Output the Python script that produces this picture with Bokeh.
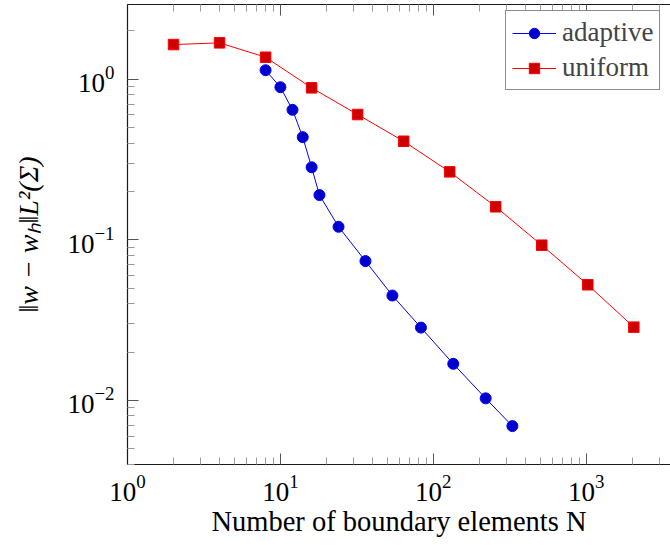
from bokeh.plotting import figure
from bokeh.models import Range1d, FixedTicker, LogAxis, Legend, LegendItem
from bokeh.embed import file_html
from bokeh.resources import INLINE

# ---------------- data ----------------
adaptive_n = [8, 10, 12, 14, 16, 18, 24, 36, 54, 83, 135, 220, 329]
adaptive_err = [1.138, 0.892, 0.645, 0.436, 0.283, 0.190, 0.1206, 0.0737,
                0.0450, 0.0284, 0.0169, 0.0103, 0.00692]
uniform_n = [2, 4, 8, 16, 32, 64, 128, 256, 512, 1024, 2048]
uniform_err = [1.644, 1.685, 1.371, 0.884, 0.603, 0.411, 0.265, 0.1606,
               0.0926, 0.0525, 0.0286]
series_labels = ["adaptive", "uniform"]
x_major_ticks = [1, 10, 100, 1000]
y_major_ticks = [0.01, 0.1, 1]
x_label = "Number of boundary elements N"
y_label = "\u2016w \u2212 w\u2095\u2016L\u00b2(\u03a3)"

FONT = "Liberation Serif"
x_minor = [k * 10 ** d for d in range(0, 4) for k in range(2, 10)]
y_minor = [k * 10.0 ** d for d in range(-3, 1) for k in range(2, 10)]

p = figure(width=670, height=545, x_axis_type="log", y_axis_type="log",
           x_range=Range1d(1, 3558), y_range=Range1d(0.00399, 2.92),
           output_backend="svg", toolbar_location=None,
           min_border_left=127, min_border_right=0, min_border_top=4,
           min_border_bottom=81)
p.grid.visible = False
p.outline_line_color = None
p.background_fill_color = "white"
p.border_fill_color = "white"

def style_axis(ax, ticks, minor, show_labels=True):
    ax.ticker = FixedTicker(ticks=ticks, minor_ticks=minor)
    ax.axis_line_color = "#1a1a1a"
    ax.axis_line_width = 1.2
    ax.major_tick_in = 11
    ax.major_tick_out = 0
    ax.minor_tick_in = 7
    ax.minor_tick_out = 0
    ax.major_tick_line_color = "#555555"
    ax.minor_tick_line_color = "#9a9a9a"
    ax.major_label_text_font = FONT
    ax.major_label_text_color = "black"
    ax.axis_label_text_font = FONT
    ax.axis_label_text_color = "black"
    ax.axis_label_text_font_size = "28px"
    if show_labels:
        ax.major_label_text_font_size = "27px"
    else:
        ax.major_label_text_font_size = "1px"
        ax.major_label_text_alpha = 0
        ax.major_label_standoff = 0

style_axis(p.xaxis[0], x_major_ticks, x_minor)
style_axis(p.yaxis[0], y_major_ticks, y_minor)
p.xaxis[0].major_label_standoff = 10
p.yaxis[0].major_label_standoff = 13
p.xaxis[0].axis_label = x_label
p.xaxis[0].axis_label_text_font_style = "normal"
p.xaxis[0].axis_label_text_font_size = "28.5px"
p.xaxis[0].axis_label_standoff = 2
p.yaxis[0].axis_label = y_label
p.yaxis[0].axis_label_text_font_style = "italic"
p.yaxis[0].axis_label_standoff = 20

top_axis = LogAxis()
style_axis(top_axis, x_major_ticks, x_minor, show_labels=False)
p.add_layout(top_axis, "above")

# ---------------- series ----------------
bl = p.line(adaptive_n, adaptive_err, line_color="#0000ff", line_width=1)
bm = p.scatter(adaptive_n, adaptive_err, marker="circle", size=11,
               fill_color="#0000cc", line_color="#0000ff", line_width=1)
rl = p.line(uniform_n, uniform_err, line_color="#ff0000", line_width=1)
rm = p.scatter(uniform_n, uniform_err, marker="square", size=10.5,
               fill_color="#cc0000", line_color="#ff0000", line_width=1)

legend = Legend(items=[LegendItem(label=series_labels[0], renderers=[bl, bm]),
                       LegendItem(label=series_labels[1], renderers=[rl, rm])],
                location=(378, 374), padding=6, spacing=4,
                glyph_width=44, glyph_height=26, label_height=30,
                label_standoff=6,
                label_text_font=FONT, label_text_font_size="27px",
                border_line_color="#1a1a1a", border_line_width=1,
                background_fill_alpha=1)
p.add_layout(legend, "center")

open("out.html", "w").write(file_html(p, INLINE))
